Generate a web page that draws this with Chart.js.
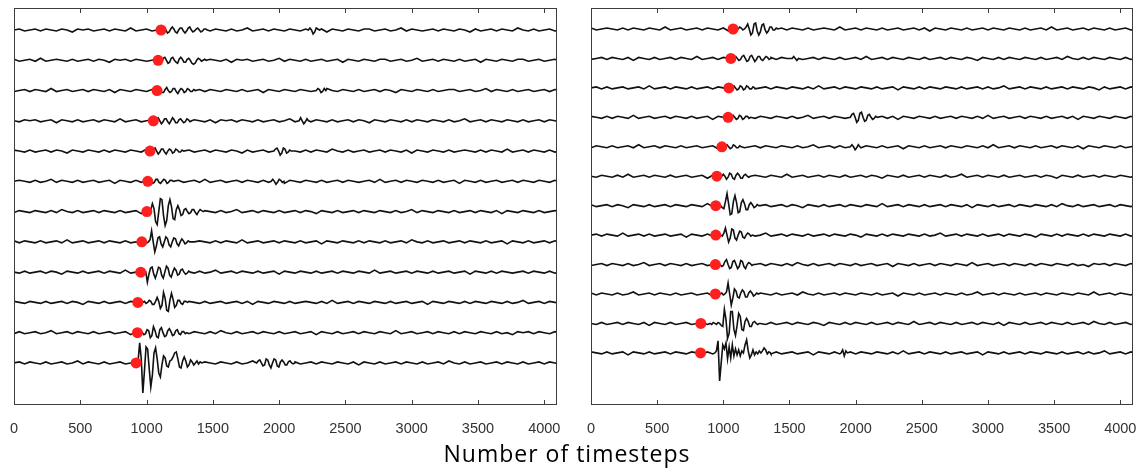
<!DOCTYPE html>
<html>
<head>
<meta charset="utf-8">
<script src="https://cdn.jsdelivr.net/npm/chart.js@4.4.1/dist/chart.umd.min.js"></script>
<style>
  body { margin: 0; background: #fff; }
  #wrap { position: relative; width: 1144px; height: 475px; overflow: hidden; }
  canvas { position: absolute; top: 0; }
  #leftChart { left: 0; }
  #rightChart { left: 577px; }
  #xTitle {
    position: absolute; left: 0; width: 1134px; top: 438px; line-height: 31px;
    text-align: center; font-family: "Open Sans", sans-serif; font-size: 23px;
    letter-spacing: 1px; color: #000;
  }
</style>
</head>
<body>
<div id="wrap">
  <canvas id="leftChart" width="572" height="450"></canvas>
  <canvas id="rightChart" width="567" height="450"></canvas>
  <div id="xTitle">Number of timesteps</div>
</div>
<script>
const X_MAX = 4096;
const X_TICKS = [0, 500, 1000, 1500, 2000, 2500, 3000, 3500, 4000];
const NOISE_STEP = 40;   // timesteps between background samples
const EVENT_STEP = 12;   // timesteps between samples inside an arrival

// picked arrival (red dot) per trace, top to bottom
const leftPicks = [1109, 1087, 1079, 1051, 1026, 1009, 1002, 964, 956, 934, 931, 921];
const rightPicks = [1074, 1057, 1042, 1036, 989, 951, 943, 943, 940, 940, 830, 828];

// background noise, one sample every NOISE_STEP (amplitude in px, + is up)
const leftNoise = [
  [0,1,-1,0,1,-1,1,0,-1,1, 0,-2,1,0,1,-1,0,1,-1,1, 0,-1,2,-1,0,1,-1,0,1,-1, 1,-2,0,1,-1,0,1,-1,1,0, -1,1,-1,0,2,-1,0,1,-1,1, 0,-1,1,0,-1,1,-1,0,1,-2, 1,0,-1,1,0,-1,1,1,-1,0, 1,-1,0,2,-1,1,0,-1,0,1, -1,1,0,-1,1,0,-2,1,-1,0, 1,-1,1,0,-1,2,0,-1,1,-1, 0,1,-1,0,1,-1,0,1,-1,0],
  [1,-1,0,1,-1,2,-1,0,1,0, -1,1,-1,0,1,-1,1,0,-2,1, 0,1,-1,1,0,-1,0,1,-1,2, -1,0,1,-1,0,1,-1,1,0,-1, 1,-2,1,0,1,-1,0,1,-1,0, 2,-1,1,0,-1,1,-1,0,1,-1, 0,1,-2,1,0,-1,1,0,-1,1, 1,-1,0,1,-1,0,2,-1,0,1, -1,1,0,-1,1,-1,0,1,-2,1, 0,-1,1,0,-1,1,1,-1,0,1, -1,0,1,-1,2,-1,0,1,-1,0],
  [-1,0,1,-1,1,0,-1,2,-1,0, 1,-1,0,1,-1,1,0,-1,1,-2, 1,0,-1,1,0,-1,1,-1,0,1, 0,-1,2,-1,0,1,-1,1,0,-1, 1,0,-1,1,-1,0,1,-2,1,0, -1,1,0,-1,1,0,-1,1,-1,2, 0,-1,1,0,-1,1,-1,0,1,-1, 1,0,-2,1,0,-1,1,0,-1,1, -1,0,1,1,-1,0,1,-1,0,2, -1,1,0,-1,1,-1,0,1,-1,0, 1,-1,1,0,-1,1,0,-1,1,0],
  [0,-1,1,0,1,-1,0,1,-2,1, 0,-1,1,-1,0,1,-1,1,0,-1, 2,-1,0,1,-1,0,1,-1,1,0, -1,1,-1,0,1,0,-1,1,-2,1, 0,1,-1,1,0,-1,1,-1,0,1, -1,0,2,-1,1,0,-1,1,0,-1, 1,-1,0,1,-1,1,0,-2,1,0, -1,1,0,-1,1,-1,1,0,-1,1, 0,-1,1,-1,0,2,-1,0,1,-1, 1,0,-1,1,0,-1,1,-1,0,1, -1,1,0,-1,1,0,-1,1,-1,0],
  [1,0,-1,1,-1,0,1,-1,1,0, -2,1,0,-1,1,0,-1,1,-1,1, 0,-1,1,0,-1,2,-1,0,1,-1, 1,-1,0,1,-1,0,1,-1,1,0, -1,1,0,-2,1,-1,0,1,-1,1, 0,-1,1,0,-1,1,-1,1,0,-1, 2,0,-1,1,-1,0,1,-1,0,1, -1,1,0,-1,1,-2,1,0,-1,1, 0,-1,1,-1,0,1,0,-1,1,-1, 1,0,-1,2,-1,0,1,-1,1,0, -1,1,-1,0,1,-1,0,1,-1,1],
  [0,1,0,-1,1,-1,0,2,-1,1, 0,-1,1,-1,0,1,-1,0,1,-2, 1,0,-1,1,-1,1,0,-1,1,0, -1,1,-1,0,1,-1,2,-1,0,1, -1,0,1,-1,1,0,-1,1,-1,0, 1,-2,1,0,-1,1,0,-1,1,-1, 0,1,-1,1,0,-1,0,1,-1,2, -1,0,1,-1,1,0,-1,1,0,-1, 1,-1,0,1,-2,1,0,-1,1,-1, 0,1,-1,0,1,-1,1,0,-1,1, 0,-1,1,-1,0,1,-1,1,0,-1],
  [-1,1,0,-1,1,0,-1,1,-1,2, 0,-1,1,-1,0,1,-1,1,0,-1, 1,-1,0,1,-2,1,0,-1,1,-1, 0,1,-1,1,0,-1,1,0,-1,1, -1,0,2,-1,0,1,-1,1,0,-1, 1,-1,0,1,-1,1,0,-2,1,0, -1,1,-1,0,1,-1,1,0,-1,1, 0,-1,1,-1,0,2,-1,1,0,-1, 1,0,-1,1,-1,0,1,-1,1,0, -1,1,-2,1,0,-1,1,0,-1,1, -1,0,1,-1,1,0,-1,1,-1,0],
  [1,-1,1,0,-1,1,-1,0,1,-1, 2,-1,0,1,-1,0,1,-1,1,0, -1,1,-1,0,-2,1,0,1,-1,1, 0,-1,1,-1,0,1,0,-1,1,-1, 1,0,-1,2,-1,0,1,-1,0,1, -1,1,0,-1,1,-1,0,1,-2,1, 0,-1,1,0,-1,1,-1,1,0,-1, 1,-1,0,1,-1,2,0,-1,1,-1, 0,1,-1,0,1,-1,1,0,-1,1, -1,0,1,-2,1,0,-1,1,-1,0, 1,-1,1,0,-1,1,0,-1,1,0],
  [0,-1,1,-1,0,1,-1,1,0,-2, 1,0,-1,1,-1,0,1,-1,1,0, -1,2,-1,0,1,-1,0,1,-1,1, 0,-1,1,0,-1,1,-1,0,2,-1, 0,1,-1,1,0,-1,1,-1,0,1, -2,1,0,-1,1,0,-1,1,-1,0, 1,-1,1,0,-1,1,0,-1,2,-1, 0,1,-1,0,1,-1,1,0,-1,1, -1,0,1,-1,0,1,-2,1,0,-1, 1,-1,1,0,-1,0,1,-1,1,0, -1,1,-1,0,1,-1,0,1,-1,1],
  [1,0,-1,1,0,-1,1,-1,0,1, -1,1,0,-2,1,0,-1,1,-1,0, 1,-1,1,0,-1,1,-1,0,2,-1, 0,1,-1,1,0,-1,1,-1,0,1, -1,0,1,-1,1,-2,1,0,-1,1, 0,-1,1,-1,0,1,0,-1,1,-1, 2,-1,0,1,-1,1,0,-1,1,0, -1,1,-1,0,1,-1,0,1,-2,1, 0,-1,1,0,-1,1,-1,1,0,-1, 1,0,-1,1,-1,0,2,-1,0,1, -1,1,0,-1,1,-1,0,1,-1,0],
  [-1,1,-1,0,1,-1,0,2,-1,0, 1,-1,1,0,-1,1,-1,0,1,-1, 0,1,-2,1,0,-1,1,-1,0,1, -1,1,0,-1,1,0,-1,1,-1,2, 0,-1,1,-1,0,1,-1,1,0,-1, 1,-1,0,1,-1,0,1,-2,1,0, -1,1,-1,0,1,-1,1,0,-1,1, 0,-1,2,-1,0,1,-1,0,1,-1, 1,0,-1,1,-1,1,0,-1,1,0, -1,1,-1,0,-2,1,0,1,-1,1, 0,-1,1,-1,0,1,-1,1,0,-1],
  [0,1,-1,1,0,-1,1,-1,0,1, -1,0,2,-1,1,0,-1,1,-1,0, 1,-1,0,1,-1,1,0,-2,1,0, -1,1,-1,0,1,-1,1,0,-1,1, 0,-1,1,-1,0,2,-1,0,1,-1, 1,0,-1,1,-1,0,1,-1,1,0, -1,1,0,-1,1,-2,1,0,-1,1, -1,0,1,-1,1,0,-1,1,-1,0, 1,-1,2,0,-1,1,-1,0,1,-1, 0,1,-1,1,0,-1,1,-1,0,1, -1,1,0,-1,1,-1,0,1,-1,0]
];
const rightNoise = [
  [1,-1,0,1,0,-1,1,-1,1,0, -1,1,0,-1,2,-1,0,1,-1,0, 1,-1,1,0,-1,1,-2,1,0,-1, 1,0,-1,1,-1,0,1,-1,1,0, -1,1,-1,0,1,0,-1,2,-1,0, 1,-1,1,0,-1,1,-1,0,1,-1, 0,1,-1,1,-2,1,0,-1,1,0, -1,1,-1,0,1,-1,1,0,-1,1, 0,-1,1,-1,0,1,-1,2,-1,0, 1,-1,0,1,-1,1,0,-1,1,-1, 0,1,-1,0,1,-1,1,0,-1,1],
  [-1,0,1,-1,1,0,-1,1,-2,1, 0,-1,1,-1,0,1,-1,1,0,-1, 2,-1,0,1,-1,1,0,-1,1,-1, 0,1,-1,0,1,-1,1,0,-2,1, -1,0,1,-1,1,0,-1,1,-1,0, 1,-1,2,-1,0,1,-1,1,0,-1, 1,0,-1,1,-1,0,1,-1,1,0, -1,1,0,-2,1,0,-1,1,-1,1, 0,-1,1,0,-1,1,-1,0,1,-1, 2,0,-1,1,-1,1,0,-1,1,0, -1,1,-1,0,1,-1,0,1,-1,1],
  [0,1,-1,1,-1,0,1,-1,0,1, -1,2,-1,0,1,-1,1,0,-1,1, -1,0,1,-1,1,0,-2,1,0,-1, 1,-1,0,1,-1,1,0,-1,1,0, -1,1,-1,2,-1,0,1,-1,1,0, -1,1,0,-1,1,-1,0,1,-2,1, 0,-1,1,-1,1,0,-1,1,0,-1, 1,-1,0,1,-1,1,-1,0,2,-1, 0,1,-1,1,0,-1,1,-1,0,1, -1,1,0,-1,1,0,-2,1,-1,0, 1,-1,1,0,-1,1,-1,0,1,-1],
  [1,0,-1,1,-1,1,0,-1,2,-1, 0,1,-1,0,1,-1,1,0,-1,1, -1,0,1,-2,1,0,-1,1,-1,0, 1,-1,1,0,-1,1,0,-1,1,-1, 0,2,-1,0,1,-1,1,0,-1,1, -1,0,1,-1,0,1,-1,1,-2,1, 0,-1,1,0,-1,1,-1,0,1,-1, 1,0,-1,1,-1,2,-1,0,1,-1, 0,1,-1,1,0,-1,1,-1,0,1, -1,1,-2,1,0,-1,1,0,-1,1, 0,-1,1,-1,0,1,-1,1,0,-1],
  [-1,1,0,-1,1,-1,0,1,-1,2, -1,0,1,-1,1,0,-1,1,-1,0, 1,-1,0,1,-2,1,0,-1,1,-1, 0,1,-1,1,0,-1,1,0,-1,1, -1,0,2,-1,0,1,-1,1,-1,0, 1,-1,1,0,-1,1,-1,0,1,-2, 1,0,-1,1,-1,0,1,-1,1,0, -1,1,0,-1,1,-1,2,-1,0,1, -1,1,0,-1,1,-1,0,1,-1,1, 0,-1,1,-2,1,0,-1,1,0,-1, 1,-1,0,1,-1,1,0,-1,1,0],
  [0,-1,1,0,-1,1,-1,2,-1,0, 1,-1,1,0,-1,1,-1,0,1,-1, 0,1,-2,1,0,-1,1,-1,0,1, -1,1,0,-1,1,0,-1,2,-1,0, 1,-1,0,1,-1,1,0,-1,1,-1, 0,1,-1,1,0,-2,1,0,-1,1, -1,0,1,-1,1,0,-1,1,-1,0, 2,-1,0,1,-1,1,0,-1,1,-1, 0,1,-1,0,1,-1,1,0,-2,1, 0,-1,1,-1,0,1,-1,1,0,-1, 1,0,-1,1,-1,0,1,-1,1,0],
  [1,-1,0,1,-1,1,0,-2,1,0, -1,1,-1,0,1,-1,1,0,-1,1, 0,-1,2,-1,0,1,-1,1,0,-1, 1,-1,0,1,-1,0,1,-1,1,0, -2,1,0,-1,1,-1,0,1,-1,1, 0,-1,1,0,-1,2,-1,0,1,-1, 1,0,-1,1,-1,0,1,-1,1,0, -1,1,-2,1,0,-1,1,-1,0,1, -1,1,0,-1,1,0,-1,1,-1,2, 0,-1,1,-1,0,1,-1,0,1,-1, 1,0,-1,1,-1,1,0,-1,1,0],
  [0,1,-1,1,0,-1,2,-1,0,1, -1,1,-1,0,1,-1,0,1,-2,1, 0,-1,1,-1,1,0,-1,1,0,-1, 1,-1,0,2,-1,0,1,-1,1,0, -1,1,-1,0,1,-1,1,0,-1,1, 0,-2,1,0,-1,1,-1,1,0,-1, 1,0,-1,1,-1,0,2,-1,0,1, -1,1,0,-1,1,-1,0,1,-1,1, 0,-1,1,0,-2,1,0,-1,1,-1, 1,0,-1,1,-1,1,0,-1,1,0, -1,1,-1,0,1,-1,0,1,-1,1],
  [-1,0,1,-1,1,0,-1,1,-1,0, 2,-1,0,1,-1,1,0,-1,1,-1, 0,1,-1,0,1,-2,1,0,-1,1, -1,0,1,-1,1,0,-1,1,-1,2, 0,-1,1,-1,0,1,-1,1,0,-1, 1,-1,0,1,-1,0,1,-2,1,0, -1,1,-1,0,1,-1,1,0,-1,1, 0,-1,2,-1,0,1,-1,0,1,-1, 1,0,-1,1,-1,1,0,-1,1,0, -1,1,-1,0,-2,1,0,1,-1,1, 0,-1,1,-1,0,1,-1,1,0,-1],
  [1,-1,1,0,-1,1,-1,0,2,-1, 0,1,-1,1,0,-1,1,-1,0,1, -1,0,1,-2,1,0,-1,1,-1,0, 1,-1,1,0,-1,1,-1,0,1,-1, 2,0,-1,1,-1,0,1,-1,1,0, -1,1,0,-1,1,-1,0,1,-2,1, 0,-1,1,-1,0,1,-1,1,0,-1, 1,-1,0,2,-1,0,1,-1,1,0, -1,1,-1,0,1,-1,1,0,-1,1, 0,-1,1,0,-1,2,-1,0,1,-1, 1,0,-1,1,-1,0,1,-1,1,0],
  [0,-1,1,-1,0,1,-1,1,0,-1, 1,-2,1,0,-1,1,-1,0,1,-1, 0,1,-1,1,0,-1,2,-1,0,1, -1,1,0,-1,1,-1,0,1,-1,1, 0,-1,1,0,-2,1,0,-1,1,-1, 1,0,-1,1,-1,0,1,-1,1,0, -1,2,-1,0,1,-1,1,0,-1,1, -1,0,1,-1,1,0,-1,1,-2,1, 0,-1,1,-1,0,1,-1,1,0,-1, 1,-1,0,1,-1,2,0,-1,1,-1, 0,1,-1,0,1,-1,1,0,-1,1],
  [1,0,-1,1,-1,0,1,-2,1,0, -1,1,-1,0,1,-1,1,0,-1,1, 0,-1,1,-1,2,-1,0,1,-1,0, 1,-1,1,0,-1,1,-1,0,1,-1, 0,1,-2,1,0,-1,1,-1,0,1, -1,1,0,-1,1,0,-1,1,-1,2, -1,0,1,-1,1,0,-1,1,-1,0, 1,-1,0,1,-2,1,0,-1,1,-1, 0,1,-1,1,0,-1,1,0,-1,1, -1,0,1,-1,1,-1,0,2,-1,0, 1,-1,1,0,-1,1,-1,0,1,-1]
];

// arrivals: start timestep and samples every EVENT_STEP (px, + is up)
const leftEvents = [
  [{ start: 1110, amp: [0,2,3,0,-3,-2,1,3,1,-2,-3,0,2,2,-1,-3,-1,2,3,0,-2,-1,1,2,0,-2,-1,1,1,0] },
   { start: 2220, amp: [0,2,0,-4,-2,2,1,0] }],
  [{ start: 1090, amp: [0,-2,-1,2,3,0,-3,-2,2,3,0,-2,-3,1,3,1,-2,-2,1,2,0,-3,-4,-3,0,2,1,-1,0,1,0] }],
  [{ start: 1080, amp: [0,2,1,-2,-2,1,3,0,-2,-1,2,2,-1,-3,0,2,1,-2,-1,2,1,-1,-1,1,0] },
   { start: 2280, amp: [0,2,1,-2,-1,2,0] }],
  [{ start: 1052, amp: [-4,-2,2,3,0,-3,-1,2,2,-1,-3,0,3,1,-2,-2,1,2,0,-2,-1,2,1,-1,0] },
   { start: 2150, amp: [0,3,0,-3,-1,2,0] }],
  [{ start: 1028, amp: [0,-2,1,3,0,-3,-1,2,2,-1,-3,0,2,1,-2,-1,2,1,-1,-1,1,0] },
   { start: 1960, amp: [0,2,3,0,-4,-2,3,2,-2,-1,1,0] }],
  [{ start: 1010, amp: [0,2,1,-2,-1,2,2,-1,-2,0,2,1,-2,-1,1,1,0] },
   { start: 1940, amp: [0,2,0,-3,-1,2,1,-1,0] }],
  [{ start: 1008, amp: [0,-3,2,8,3,-10,-13,0,13,12,-4,-14,-9,6,12,5,-7,-8,2,6,2,-4,-3,2,3,0,-2,-1,2,2,-1,-3,0,2,1,0] }],
  [{ start: 966, amp: [0,-1,1,-1,0,2,11,0,-10,-4,4,5,-2,-5,0,5,3,-3,-5,0,4,3,-2,-4,0,3,1,-2,-1,1,0] }],
  [{ start: 958, amp: [0,1,-1,0,-10,-2,4,5,-2,-6,-1,5,4,-3,-6,0,6,4,-3,-5,0,4,2,-3,-2,2,3,0,-2,-1,1,0] }],
  [{ start: 936, amp: [0,1,-1,0,1,-1,0,2,1,-2,-2,1,5,1,-6,-3,10,4,-8,-9,2,9,3,-5,-3,2,2,-1,-2,1,1,0] }],
  [{ start: 932, amp: [0,-1,1,0,-2,-1,3,2,-5,-3,6,2,-4,-5,3,5,0,-4,-3,2,4,1,-3,-2,2,3,-1,-2,1,1,-1,0] }],
  [{ start: 924, amp: [0,2,20,4,-30,-8,16,14,-6,-24,-12,10,15,4,-10,-14,-2,7,5,-3,-4,2,3,6,10,11,4,-4,-5,2,6,2,-4,-2,3,1,-2,0,2,-1,1,0] },
   { start: 1830, amp: [0,2,3,0,-3,-2,4,3,-2,-5,0,4,3,-3,-4,1,3,1,-2,-2,1,2,0,-1,0] }]
];
const rightEvents = [
  [{ start: 1076, amp: [0,1,-1,0,2,1,-1,0,2,5,0,-6,-4,5,6,-2,-6,-3,4,5,-1,-4,-2,2,2,-1,-1,1,0] }],
  [{ start: 1058, amp: [0,-1,1,2,0,-2,-1,2,3,0,-3,-2,2,3,0,-3,-1,2,2,-1,-2,0,2,1,-1,0] },
   { start: 1520, amp: [0,2,0,-2,0] }],
  [{ start: 1044, amp: [0,-1,1,2,0,-2,-1,2,1,-2,-1,2,1,-1,-1,1,0] }],
  [{ start: 1038, amp: [0,-1,1,2,0,-2,-1,2,1,-2,-1,1,1,-1,0] },
   { start: 1960, amp: [0,3,4,0,-5,-3,4,5,0,-4,-3,2,3,0,-2,-1,1,0] }],
  [{ start: 992, amp: [0,-1,1,2,0,-2,-1,2,1,-1,-1,1,0] },
   { start: 1960, amp: [0,2,0,-3,-1,2,0] }],
  [{ start: 952, amp: [0,-1,1,0,2,0,-3,-1,3,2,-2,-3,1,3,1,-2,-2,1,2,0,-1,0] }],
  [{ start: 944, amp: [0,-1,1,0,-2,-3,4,12,2,-9,-8,4,10,3,-7,-6,3,6,2,-4,-4,1,3,1,-2,-1,1,0] }],
  [{ start: 944, amp: [0,-1,1,0,-1,2,7,0,-7,-3,6,5,-3,-5,0,4,3,-2,-3,0,2,1,-1,0] }],
  [{ start: 940, amp: [0,-1,1,0,-2,-1,3,5,0,-4,-3,3,4,0,-4,-2,4,3,-2,-4,0,2,1,-1,0] }],
  [{ start: 940, amp: [0,1,-1,0,1,-1,0,2,11,0,-11,-4,5,3,-3,-4,1,4,2,-3,-3,1,3,1,-2,-1,1,0] }],
  [{ start: 900, amp: [0,-1,1,0,-1,1,0,-2,-3,14,4,-15,-10,12,12,-6,-12,-2,10,7,-6,-7,2,5,2,-3,-3,1,2,0,-1,0] }],
  [{ start: 936, amp: [0,2,12,-28,-10,8,4,10,-6,6,-5,8,-3,4,-2,3,-3,2,0,8,13,2,-5,-2,3,-2,1,-1,2,0,2,5,3,-1,1,0] },
   { start: 1890, amp: [0,3,-3,2,0] }]
];

function tracePoints(noise, events, row, pxPerRow) {
  const pts = [];
  const inEvent = t => events.some(e => t >= e.start && t <= e.start + (e.amp.length - 1) * EVENT_STEP);
  noise.forEach((a, k) => {
    const t = k * NOISE_STEP;
    if (!inEvent(t)) pts.push({ x: t, y: row - a / pxPerRow });
  });
  events.forEach(e => e.amp.forEach((a, k) => {
    pts.push({ x: e.start + k * EVENT_STEP, y: row - a / pxPerRow });
  }));
  return pts.sort((p, q) => p.x - q.x);
}

// box round the plot plus inward x ticks, top and bottom
const framePlugin = {
  id: 'frame',
  afterDraw(chart) {
    const { ctx, chartArea: a, scales: { x } } = chart;
    ctx.save();
    ctx.strokeStyle = '#3c3c3c';
    ctx.lineWidth = 1;
    ctx.strokeRect(a.left + 0.5, a.top + 0.5, a.right - a.left - 1, a.bottom - a.top - 1);
    ctx.beginPath();
    X_TICKS.forEach(v => {
      const px = Math.round(x.getPixelForValue(v)) + 0.5;
      ctx.moveTo(px, a.bottom); ctx.lineTo(px, a.bottom - 5);
      ctx.moveTo(px, a.top); ctx.lineTo(px, a.top + 5);
    });
    ctx.stroke();
    ctx.restore();
  }
};

function drawPanel(id, picks, noise, events, yMin, yMax, pxPerRow, padding) {
  const datasets = [{
    data: picks.map((p, i) => ({ x: p, y: i + 1 })),
    showLine: false,
    pointRadius: 5.5,
    pointBackgroundColor: '#ff1f1f',
    pointBorderWidth: 0
  }];
  noise.forEach((n, i) => {
    datasets.push({
      data: tracePoints(n, events[i], i + 1, pxPerRow),
      borderColor: '#111',
      borderWidth: 1.6,
      pointRadius: 0,
      tension: 0
    });
  });

  new Chart(document.getElementById(id), {
    type: 'line',
    data: { datasets },
    options: {
      responsive: false,
      animation: false,
      devicePixelRatio: 1,
      layout: { padding },
      plugins: { legend: { display: false }, tooltip: { enabled: false } },
      scales: {
        x: {
          type: 'linear',
          min: 0,
          max: X_MAX,
          afterBuildTicks: s => { s.ticks = X_TICKS.map(v => ({ value: v })); },
          afterFit: s => { s.height = 45; },
          grid: { display: false, tickLength: 15 },
          border: { display: false },
          ticks: {
            padding: 0,
            maxRotation: 0,
            color: '#333',
            font: { family: 'Liberation Sans', size: 14.5 },
            callback: v => String(v)
          }
        },
        y: { display: false, reverse: true, min: yMin, max: yMax }
      }
    },
    plugins: [framePlugin]
  });
}

drawPanel('leftChart', leftPicks, leftNoise, leftEvents, 0.273, 13.39, 30.27,
  { left: 14, right: 15, top: 8, bottom: 0 });
drawPanel('rightChart', rightPicks, rightNoise, rightEvents, 0.287, 13.77, 29.45,
  { left: 14, right: 11, top: 8, bottom: 0 });
</script>
</body>
</html>
